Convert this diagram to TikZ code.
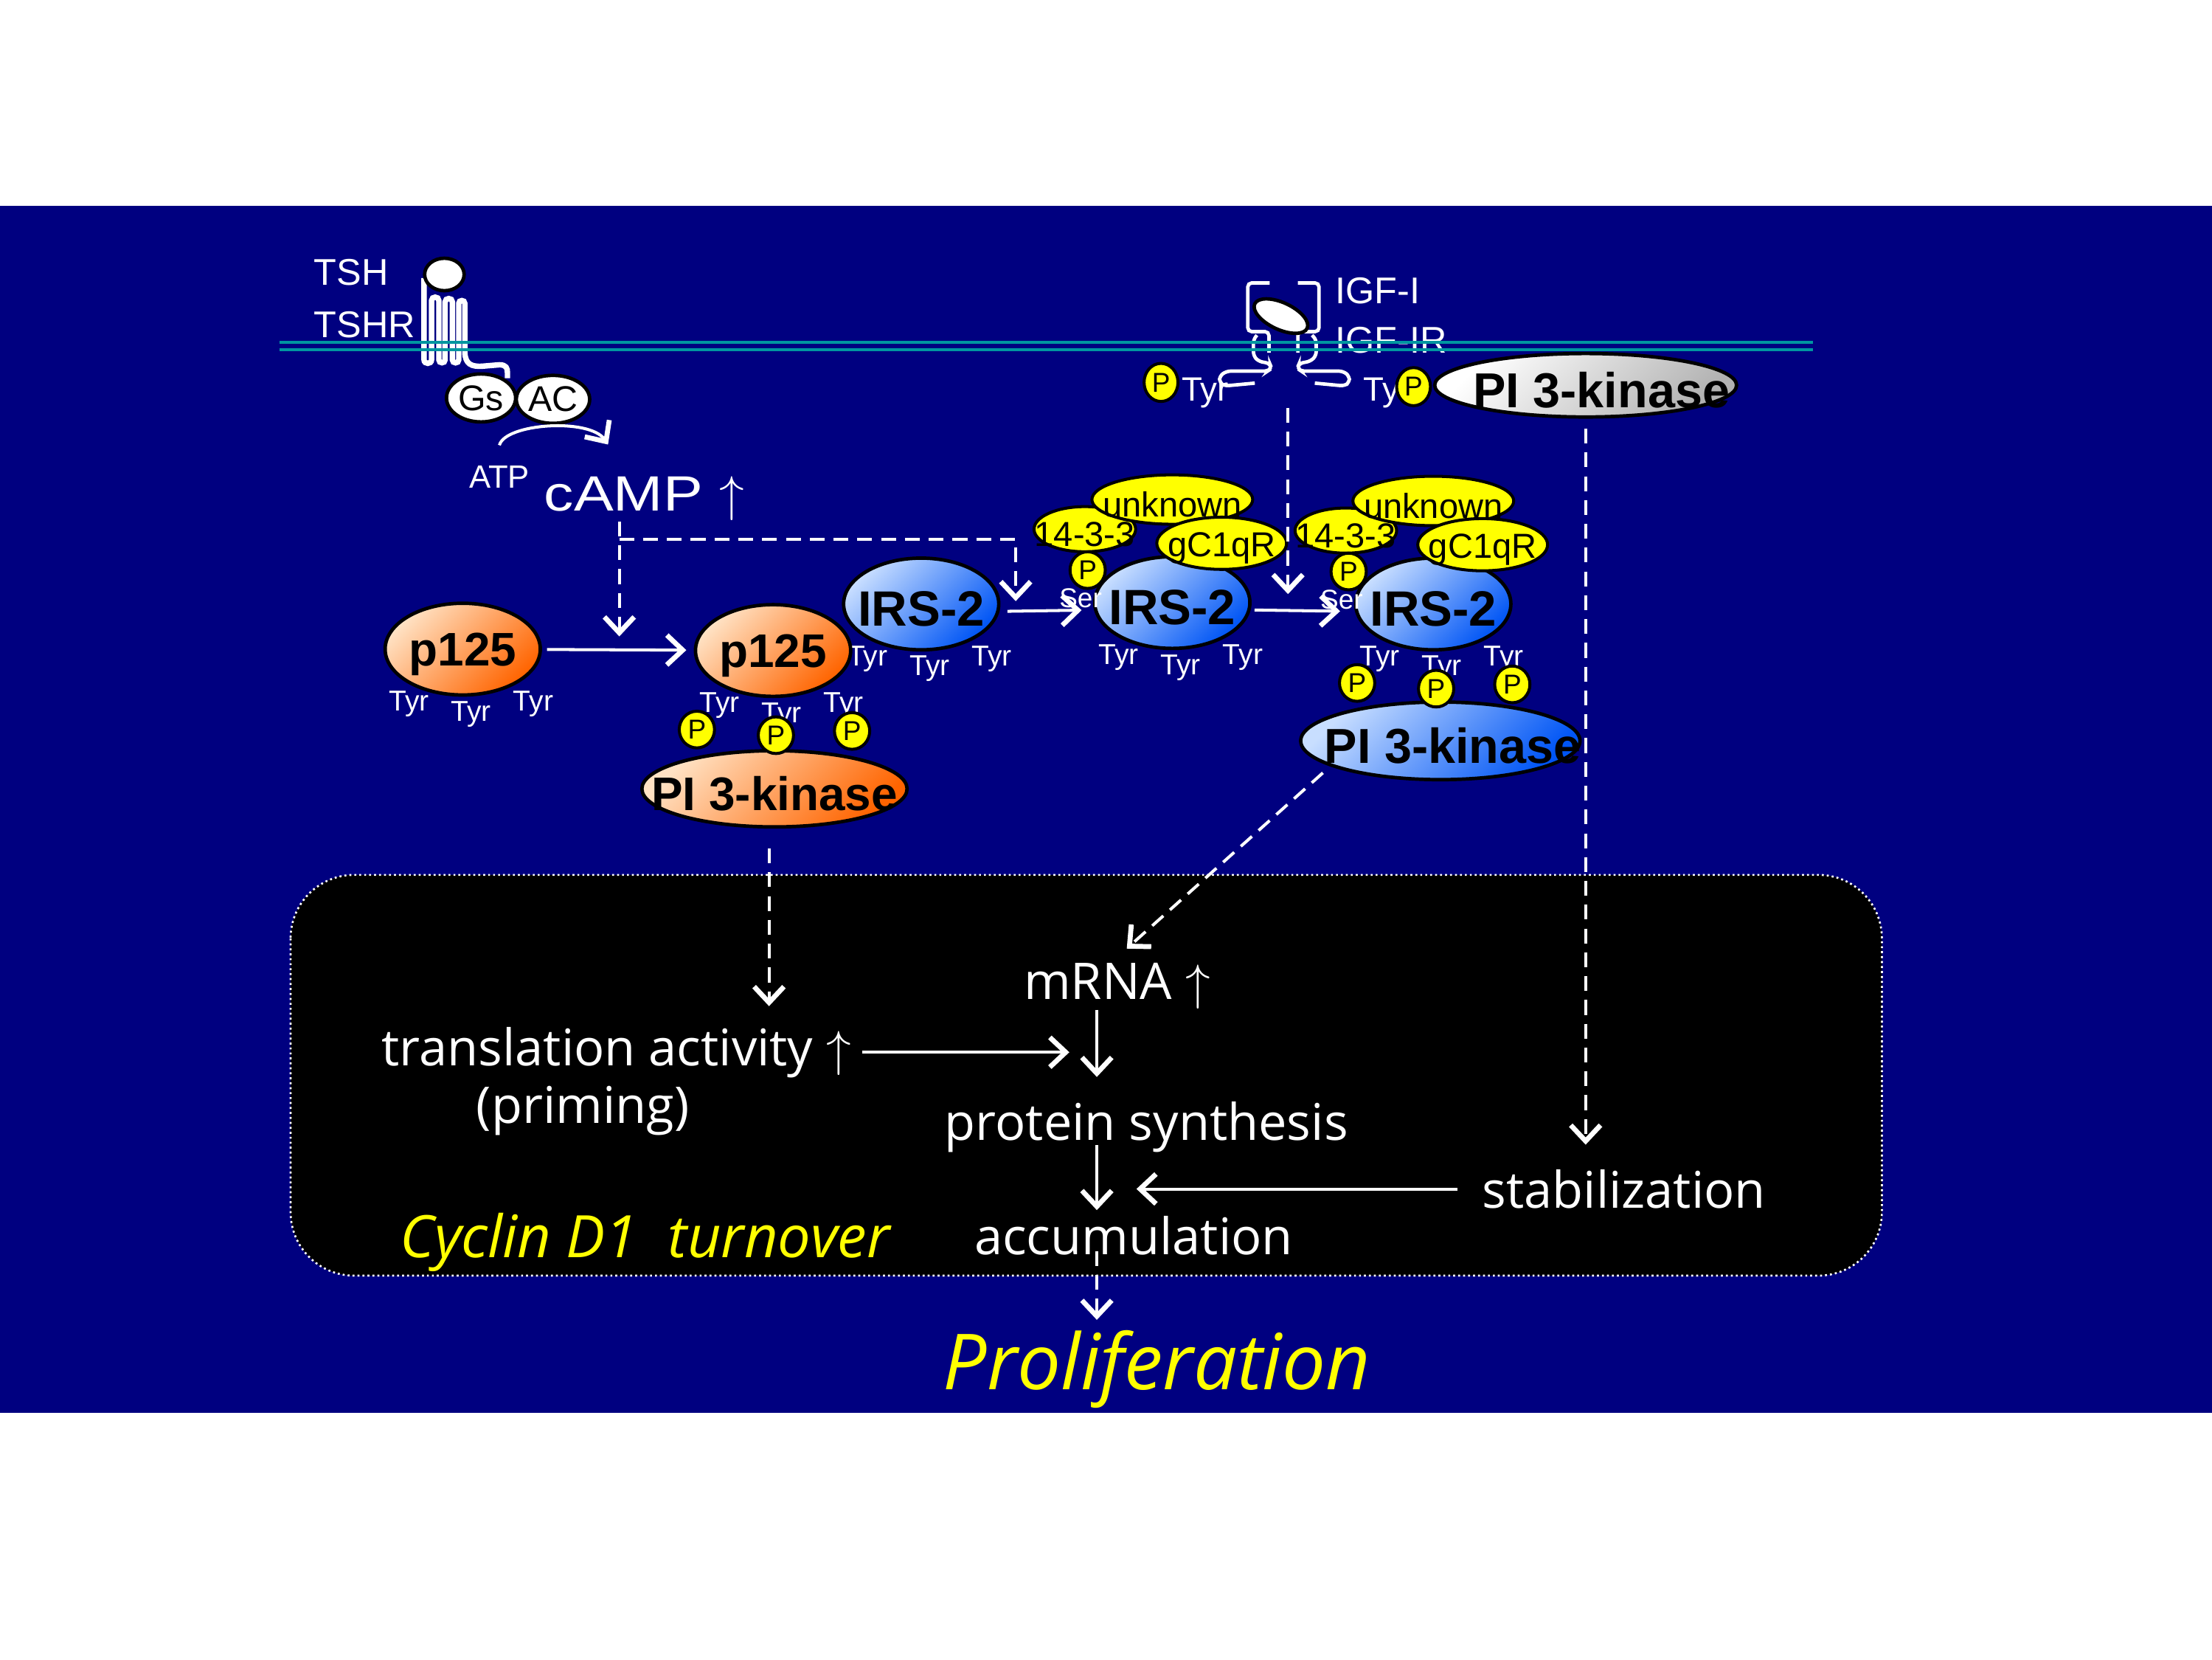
\documentclass[tikz,border=0pt]{standalone}
\usepackage{fontspec}
\setmainfont{Liberation Sans}
\newfontfamily\widefont[FakeStretch=1.2]{Liberation Sans}
\newfontfamily\boxfont{Open Sans}
\usetikzlibrary{arrows.meta,shapes.geometric}
\definecolor{navy}{RGB}{0,0,128}
\definecolor{memb}{RGB}{0,150,160}
\definecolor{orgL}{RGB}{255,226,196}
\definecolor{orgD}{RGB}{255,100,0}
\definecolor{bluL}{RGB}{200,222,255}
\definecolor{bluD}{RGB}{0,85,245}
\definecolor{gryD}{RGB}{178,178,178}
\definecolor{yel}{RGB}{255,255,0}
\newcommand{\fs}[1]{\fontsize{#1}{#1}\selectfont}
\newcommand{\mk}[1]{\makebox[0pt]{\raisebox{-1pt}[\height][\depth]{#1}}}

\begin{document}
\begin{tikzpicture}
[x=0.1mm,y=-0.1mm,
ball/.style={ellipse,draw=black,line width=0.7pt,inner sep=0pt,minimum width=11mm,minimum height=6.5mm,font=\bfseries\fs{9.5}},
orng/.style={top color=orgL,bottom color=orgD,shading angle=45},
blu/.style={top color=bluL,bottom color=bluD,shading angle=45},
gry/.style={top color=white,bottom color=gryD,shading angle=45},
wball/.style={ellipse,draw=black,line width=0.7pt,fill=white,inner sep=0pt,minimum width=4.9mm,minimum height=3.4mm,font=\fs{7.2}},
yelo/.style={ellipse,draw=black,line width=0.6pt,fill=yel,inner sep=0pt,font=\fs{7}},
pp/.style={yelo,minimum width=2.5mm,minimum height=2.6mm,font=\fs{5.5}},
tyr/.style={text=white,inner sep=0pt,font=\fs{5.8}},
lbl/.style={text=white,inner sep=0pt,font=\fs{7.5}},
btxt/.style={text=white,inner sep=0pt,font=\boxfont\fs{10.2}},
arr/.style={white,line width=0.6pt,-{Straight Barb[length=3.2pt,width=6pt,line width=1pt]}},
dasharr/.style={arr,dash pattern=on 3pt off 1.8pt},
tm/.style={white,line width=1.1pt},
rec/.style={white,line width=0.7pt,rounded corners=0.8pt}]
\useasboundingbox (0,0) rectangle (1568,1176);
\fill[white] (0,0) rectangle (1568,1176);
\fill[navy] (0,146) rectangle (1568,1001);
\draw[white,fill=black,line width=0.4pt,dash pattern=on 0.4pt off 0.6pt,rounded corners=4.5mm] (206,620) rectangle (1334,904);

% TSH and its receptor
\node[lbl,anchor=base west] (tsh) at (222,202) {TSH};
\node[lbl,anchor=base west] (tshr) at (222,239) {TSHR};
\draw[tm] (300.6,197) -- (300.6,255)
  to[out=-90,in=-90,looseness=1.6] (305.9,255) -- (305.9,213)
  to[out=90,in=90,looseness=1.6] (311.1,213) -- (311.1,255)
  to[out=-90,in=-90,looseness=1.6] (315.5,255) -- (315.5,214)
  to[out=90,in=90,looseness=1.6] (320.7,214) -- (320.7,255)
  to[out=-90,in=-90,looseness=1.6] (325.2,255) -- (325.2,215)
  to[out=90,in=90,looseness=1.6] (329.5,215) -- (329.5,250)
  .. controls (330,258) and (334,260) .. (342,259.5) -- (354,258.5)
  .. controls (359,258.5) and (359.7,261) .. (359.7,264) -- (359.7,268);
\filldraw[fill=white,draw=black,line width=0.7pt] (315,194.5) ellipse (14 and 11.5);
\node[wball] (gs) at (341,282) {Gs};
\node[wball,minimum width=5.2mm] (ac) at (392,283) {AC};
\node[lbl,font=\fs{6.5},anchor=base] (atp) at (354,346) {ATP};
\node[lbl,font=\widefont\fs{10},anchor=base west] (camp) at (385,362) {cAMP $\uparrow$};
\coordinate (a2) at (431,315);
\draw[arr] ([yshift=4pt]atp.north) .. controls (358,300) and (418,296) .. (a2);

% IGF-I and its receptor
\node[lbl,anchor=base west] (igf) at (946,215) {IGF-I};
\node[lbl,anchor=base west] (igfr) at (946,250) {IGF-IR};
\node[tyr,font=\fs{6.8},anchor=base west] at (837,284) {Tyr};
\node[tyr,font=\fs{6.8},anchor=base west] at (966,284) {Tyr};
\draw[rec] (900,200.5) -- (884.5,200.5) -- (884.5,235) -- (899.5,235) -- (899.5,250);
\draw[rec] (891,237.5) -- (888.5,240.5) -- (888.5,252) -- (892,256) -- (900,257.5) -- (901.5,261) -- (898.5,263) -- (869.5,263) -- (864.5,266.5) -- (864.5,271) -- (868,273.5) -- (889.5,271.5);
\draw[rec] (920,200.5) -- (935,200.5) -- (935,235) -- (920,235) -- (920,250);
\draw[rec] (930,237.5) -- (933,240.5) -- (933,252) -- (929,256) -- (921,257.5) -- (919.5,261) -- (922.5,263) -- (952,263) -- (956.5,266.5) -- (956.5,271) -- (953,273.5) -- (932,271.5);
\filldraw[fill=white,draw=black,line width=0.7pt,rotate around={-25:(908,224)}] (908,224) ellipse (20.5 and 9.5);
\node[pp,minimum width=2.4mm,minimum height=2.7mm] at (823,271) {P};
\node[pp,minimum width=2.4mm,minimum height=2.7mm] at (1002,274) {P};
\node[ball,gry,font=\bfseries\fs{9.9},minimum width=21.4mm,minimum height=4.5mm] (k3) at (1124,273) {\mk{\hspace{6.4pt}PI 3-kinase}};
\coordinate (rc) at (913,289);

% p125 and IRS-2
\node[ball,blu,font=\bfseries\fs{10}] (i1) at (653,428) {\mk{IRS-2}};
\foreach \dx/\dy in {-38/39,6/46,50/39}
  \node[tyr] at ([shift={(\dx,\dy)}]i1) {Tyr};
\node[ball,orng] (p1) at (328,460) {\mk{p125}};
\node[ball,orng] (p2) at (548,461) {\mk{p125}};
\node[ball,blu,font=\bfseries\fs{10}] (i2) at (831,427) {\mk{IRS-2}};
\node[ball,blu,font=\bfseries\fs{10}] (i3) at (1016,428) {\mk{IRS-2}};
\foreach \b in {p1,p2,i2,i3}
  \foreach \dx/\dy in {-38/39,6/46,50/39}
    \node[tyr] at ([shift={(\dx,\dy)}]\b) {Tyr};
\node[ball,orng,font=\bfseries\fs{9.5},minimum width=18.8mm,minimum height=5.4mm] (k1) at (549,559) {\mk{PI 3-kinase}};
\node[ball,blu,font=\bfseries\fs{9.9},minimum width=19.8mm,minimum height=5.5mm] (k2) at (1021,525) {\mk{\hspace{5pt}PI 3-kinase}};
\foreach \k in {p2,i3}
  \foreach \dx/\dy in {-54/56,2/60,56/57}
    \node[pp] at ([shift={(\dx,\dy)}]\k) {P};
\foreach \c in {i2,i3}{
  \node[yelo,minimum width=7.2mm,minimum height=3.2mm] at ([shift={(-62,-52)}]\c) {\mk{14-3-3}};
  \node[pp] at ([shift={(-60,-23)}]\c) {P};
  \node[tyr,font=\fs{5.5}] at ([shift={(-65,-3)}]\c) {Ser};
  \node[yelo,minimum width=11.4mm,minimum height=3.5mm] at ([shift={(0,-73)}]\c) {\mk{unknown}};
  \node[yelo,minimum width=9.2mm,minimum height=3.7mm] at ([shift={(35,-42)}]\c) {\mk{gC1qR}};
}

% membrane
\draw[memb,line width=0.5pt] (198,242.6) -- (1285,242.6);
\draw[memb,line width=0.5pt] (198,247.8) -- (1285,247.8);

% cyclin D1 box
\node[btxt,anchor=base west] (trans) at (270,755) {translation activity $\uparrow$};
\node[btxt,anchor=base west] (prim) at (337,796) {(priming)};
\node[btxt,anchor=base west] (mrna) at (725,708) {mRNA $\uparrow$};
\node[btxt,anchor=base west] (prot) at (669,808) {protein synthesis};
\node[btxt,anchor=base west] (stab) at (1050,856) {stabilization};
\node[btxt,anchor=base west] (accum) at (690,889) {accumulation};
\node[btxt,text=yel,font=\boxfont\itshape\fs{11.8},anchor=base west] (cyc) at (283,891) {Cyclin D1\ \ turnover};
\node[btxt,text=yel,font=\boxfont\itshape\fs{15.6},anchor=base west] (prolif) at (668,985) {Proliferation};

% connectors
\coordinate (col) at (777.5,0);
\coordinate (j1) at (439,382);
\coordinate (j2) at (720,382);
\coordinate (t1) at (439,451);
\coordinate (t2) at (720,426);
\coordinate (t3) at (913,421);
\coordinate (t4) at (758,742);
\draw[dasharr] (camp.south -| j1) -- (t1);
\draw[dasharr] (j1) -- (j2) -- (t2);
\draw[dasharr] (rc) -- (t3);
\draw[arr,shorten <=1pt,shorten >=1.5pt] (p1) -- (p2);
\draw[arr,shorten <=1.4pt,shorten >=2.3pt] ([yshift=-1.5pt]i1.east) -- ([yshift=-1.5pt]i2.west);
\draw[arr,shorten <=0.6pt,shorten >=2.8pt] ([yshift=-1.5pt]i2.east) -- ([yshift=-1.5pt]i3.west);
\draw[dasharr,shorten <=2pt,shorten >=4.8pt] (k3.south) -- (k3.south |- stab.north);
\draw[dasharr,shorten <=4pt,shorten >=4pt] ([xshift=-1.1pt]k1.south) -- ([xshift=-1.1pt]k1.south |- trans.north);
\draw[dasharr,shorten <=2pt,shorten >=4pt] (k2.193) -- ([xshift=-1pt]mrna.north);
\draw[arr,shorten <=2pt] (trans.east) -- (trans.east -| t4);
\draw[arr,shorten >=4.8pt] (mrna.south -| col) -- (prot.north -| col);
\draw[arr,shorten <=-1.7pt,shorten >=1pt] (prot.south -| col) -- (accum.north -| col);
\draw[arr,shorten <=4.8pt,shorten >=8pt] (stab.west) -- (stab.west -| col);
\draw[dasharr,shorten <=-1pt,shorten >=2pt] (accum.south -| col) -- (prolif.north -| col);
\end{tikzpicture}
\end{document}
